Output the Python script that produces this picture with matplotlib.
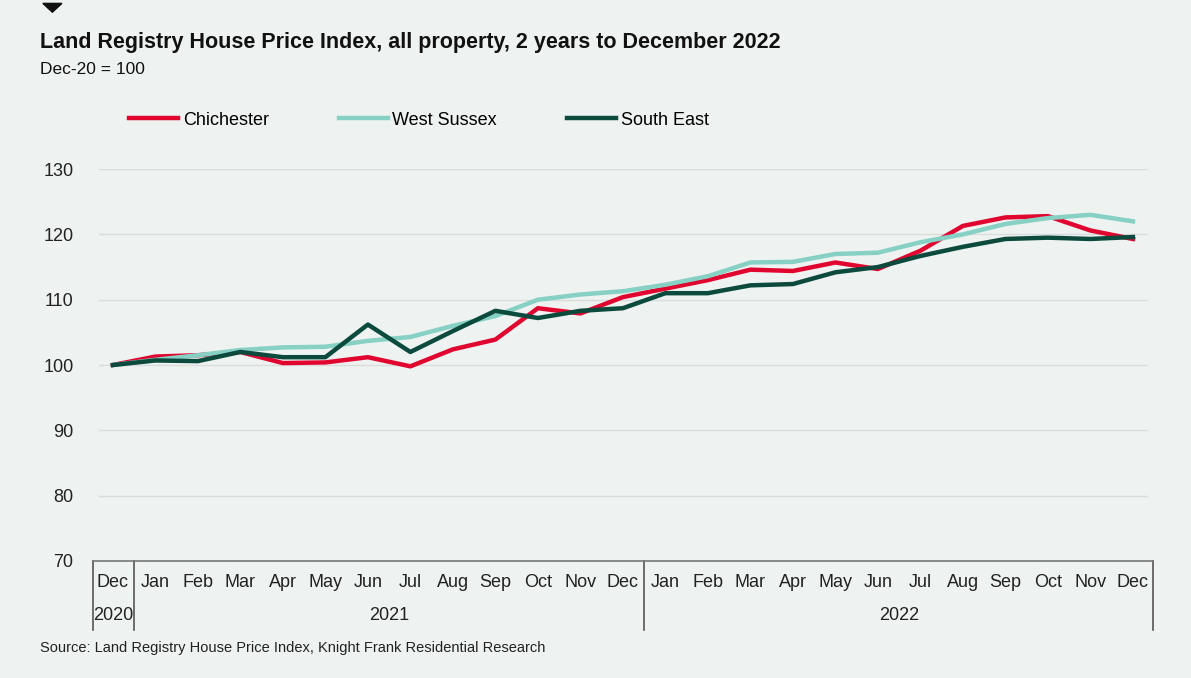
import matplotlib.pyplot as plt
import matplotlib.transforms as mtransforms
import numpy as np

months = ['Dec', 'Jan', 'Feb', 'Mar', 'Apr', 'May', 'Jun', 'Jul', 'Aug', 'Sep', 'Oct', 'Nov', 'Dec',
          'Jan', 'Feb', 'Mar', 'Apr', 'May', 'Jun', 'Jul', 'Aug', 'Sep', 'Oct', 'Nov', 'Dec']
years = ['2020', '2021', '2022']
year_spans = [(0, 0), (1, 12), (13, 24)]

chichester = [100.0, 101.3, 101.5, 102.0, 100.3, 100.4, 101.2, 99.8, 102.4, 103.9, 108.7, 107.9, 110.4,
              111.7, 113.0, 114.6, 114.4, 115.7, 114.7, 117.5, 121.3, 122.6, 122.8, 120.6, 119.3]
west_sussex = [100.0, 100.8, 101.5, 102.3, 102.7, 102.8, 103.7, 104.3, 106.0, 107.5, 110.0, 110.8, 111.3,
               112.3, 113.6, 115.7, 115.8, 117.0, 117.2, 118.8, 120.0, 121.6, 122.5, 123.0, 122.0]
south_east = [100.0, 100.7, 100.6, 102.0, 101.2, 101.2, 106.2, 102.0, 105.2, 108.3, 107.2, 108.3, 108.7,
              111.0, 111.0, 112.2, 112.4, 114.2, 115.0, 116.7, 118.1, 119.3, 119.5, 119.3, 119.6]

bg = '#eef2f0'
plt.rcParams['font.family'] = ['Liberation Sans', 'DejaVu Sans']

fig = plt.figure(figsize=(11.91, 6.78), dpi=100, facecolor=bg)
ax = fig.add_axes([0.078, 0.1726, 0.89, 0.578])
ax.set_facecolor(bg)

x = np.arange(len(months))
ax.plot(x, chichester, color='#e0062f', linewidth=3.2, label='Chichester')
ax.plot(x, west_sussex, color='#86d0c4', linewidth=3.2, label='West Sussex')
ax.plot(x, south_east, color='#0d4a3e', linewidth=3.2, label='South East')

ax.set_xlim(-0.47, 24.47)
ax.set_ylim(70, 130)
ax.set_yticks([70, 80, 90, 100, 110, 120, 130])
ax.tick_params(axis='y', length=0, labelsize=13, pad=14, colors='#222222')
ax.set_xticks([])
for s in ['top', 'right', 'left']:
    ax.spines[s].set_visible(False)
ax.spines['bottom'].set_color('#777777')
ax.spines['bottom'].set_linewidth(1.2)
for yv in [80, 90, 100, 110, 120, 130]:
    ax.axhline(yv, xmin=0.006, xmax=0.994, color='#d9dddb', linewidth=1, zorder=0)

# two-level category axis
trans = mtransforms.blended_transform_factory(ax.transData, ax.transAxes)
for xb in [-0.47, 0.5, 12.5, 24.47]:
    ax.plot([xb, xb], [0, -0.176], transform=trans, color='#555555', linewidth=1.2, clip_on=False)
for i, m in enumerate(months):
    ax.text(i, -0.054, m, transform=trans, ha='center', va='center', fontsize=13, color='#222222')
for yr, (a, b) in zip(years, year_spans):
    ax.text((a + b) / 2, -0.14, yr, transform=trans, ha='center', va='center', fontsize=13, color='#222222')

fig.legend(loc='center left', bbox_to_anchor=(0.095, 0.823), ncol=3, frameon=False,
           fontsize=13, handlelength=2.7, handletextpad=0.25, columnspacing=3.9)

fig.text(0.034, 0.938, 'Land Registry House Price Index, all property, 2 years to December 2022',
         fontsize=15.5, fontweight='bold', ha='left', va='center', color='#111111')
fig.text(0.034, 0.898, 'Dec-20 = 100', fontsize=12.5, ha='left', va='center', color='#111111')
fig.text(0.034, 0.044, 'Source: Land Registry House Price Index, Knight Frank Residential Research',
         fontsize=10.5, ha='left', va='center', color='#222222')

fig.patches.append(plt.Polygon([[0.036, 0.995], [0.052, 0.995], [0.044, 0.982]], closed=True,
                               transform=fig.transFigure, color='#111111'))

plt.savefig('out.png', dpi=100, facecolor=bg)
